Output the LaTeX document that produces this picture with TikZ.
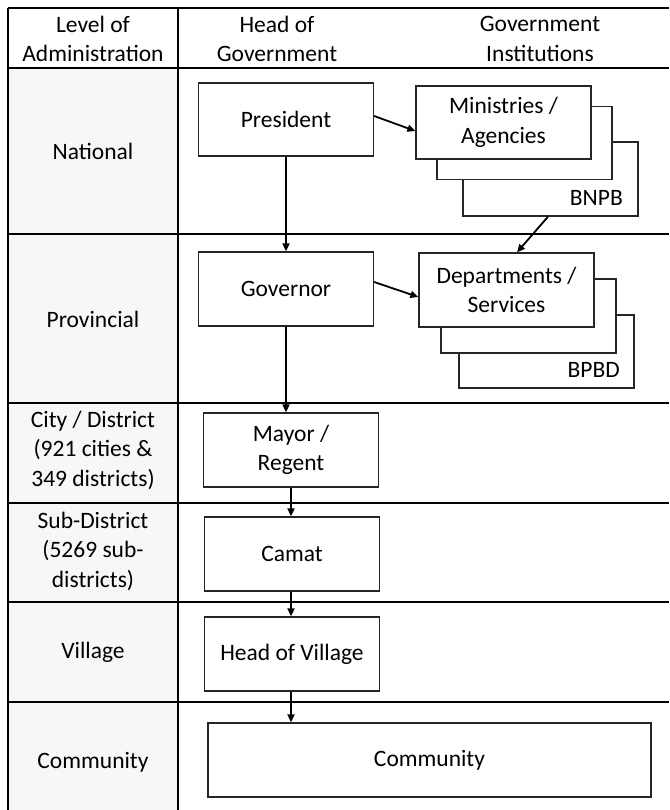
\documentclass[tikz,border=0pt]{standalone}
\usepackage{fontspec}
\setmainfont{Carlito}
\usetikzlibrary{arrows.meta,calc}
\begin{document}
\begin{tikzpicture}[x=1pt,y=-1pt,
  every node/.style={font=\fontsize{23.5}{29.5}\selectfont, text=black},
  grid/.style={line width=1.2pt, draw=black},
  box/.style={draw=black!85, line width=1.3pt, fill=white, minimum width=175pt, minimum height=74pt, inner sep=0pt, align=center},
  lbl/.style={align=center, inner sep=0pt},
  arr/.style={line width=1.8pt, -{Triangle[length=8pt,width=7pt]}}
]
\useasboundingbox (0,0) rectangle (669,810);
\fill[white] (0,0) rectangle (669,810);
% left column shading
\fill[black!3] (8,68) rectangle (178,810);
% table grid
\foreach \yy in {8,68,234,403,503,602,702} {\draw[grid] (8,\yy) -- (669,\yy);}
\draw[grid] (8,8) -- (8,810);
\draw[grid] (178,8) -- (178,810);

% headers
\node[lbl] (h1) at (93,39) {Level of\\Administration};
\node[lbl] (h2) at (277,39) {Head of\\Government};
\node[lbl] (h3) at (540,39) {Government\\Institutions};

% level labels
\node[lbl] (l1) at (93,151) {National};
\node[lbl] (l2) at (93,319) {Provincial};
\node[lbl] (l3) at (93,450) {City / District\\(921 cities \&\\349 districts)};
\node[lbl] (l4) at (93,551) {Sub-District\\(5269 sub-\\districts)};
\node[lbl] (l5) at (93,652) {Village};
\node[lbl] (l6) at (93,762) {Community};

% national
\node[box, minimum height=73pt] (pres) at (286,119.5) {President};
\node[box] (min3) at (550.5,179) {};
\node[box, minimum height=73pt] (min2) at (524.5,143) {};
\node[box, minimum height=73pt] (min1) at (503.5,122.5) {Ministries /\\Agencies};
\node[lbl, anchor=east] (bnpb) at (623,198) {BNPB};

% provincial
\node[box] (gov) at (286,289) {Governor};
\node[box, minimum height=73pt] (dep3) at (546.5,351.5) {};
\node[box] (dep2) at (528.5,316) {};
\node[box] (dep1) at (506.5,290) {Departments /\\Services};
\node[lbl, anchor=east] (bpbd) at (620,370) {BPBD};

% lower levels
\node[box] (mayor) at (291,450) {Mayor /\\Regent};
\node[box] (camat) at (292,554) {Camat};
\node[box] (hov) at (292,654) {Head of Village};
\node[box, minimum width=443pt] (comm) at (429.5,760) {Community};

% connectors
\draw[arr] ([yshift=3.5pt]pres.east) -- ([yshift=-8.5pt]min1.west);
\draw[arr] (pres.south) -- (pres.south |- gov.north);
\draw[arr] ([xshift=-2.5pt]min3.south) -- ([xshift=10.5pt]dep1.north);
\draw[arr] ([yshift=7pt]gov.east) -- ([yshift=-7pt]dep1.west);
\draw[arr] (gov.south) -- (gov.south |- mayor.north);
\draw[arr] (mayor.south) -- (mayor.south |- camat.north);
\draw[arr] ([xshift=-1pt]camat.south) -- ([xshift=-1pt]camat.south |- hov.north);
\draw[arr] ([xshift=-1pt]hov.south) -- ([xshift=-1pt]hov.south |- comm.north);
\end{tikzpicture}
\end{document}
